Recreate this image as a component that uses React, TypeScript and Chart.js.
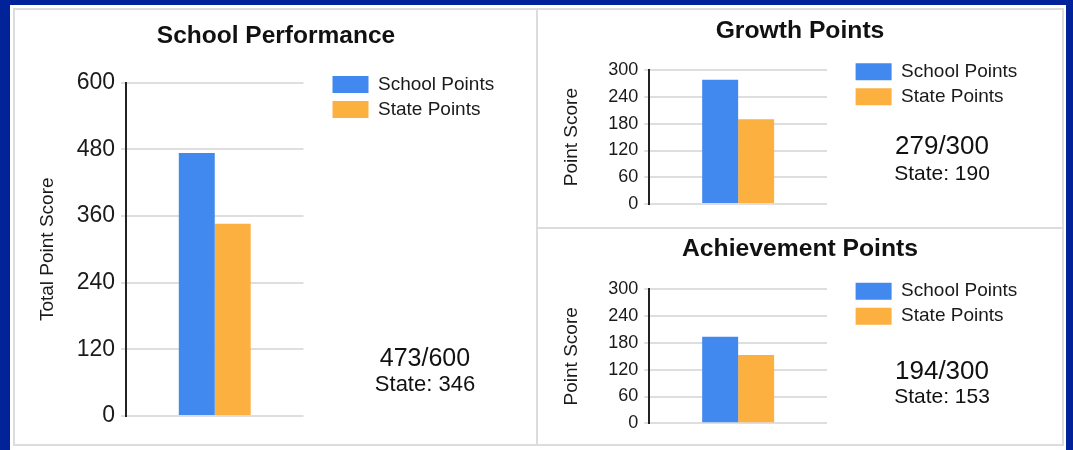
import React, { useEffect, useRef } from 'react';
import { Chart, registerables } from 'chart.js';

Chart.register(...registerables);
Chart.defaults.font.family = '"Liberation Sans", Arial, sans-serif';

// ---------- data ----------
const seriesNames = ['School Points', 'State Points'];
const categories = [''];

const perfSchool = [473];
const perfState = [346];
const perfTicks = [0, 120, 240, 360, 480, 600];

const growthSchool = [279];
const growthState = [190];
const growthTicks = [0, 60, 120, 180, 240, 300];

const achSchool = [194];
const achState = [153];
const achTicks = [0, 60, 120, 180, 240, 300];

const panelTitles = ['School Performance', 'Growth Points', 'Achievement Points'];
const axisTitles = ['Total Point Score', 'Point Score', 'Point Score'];
const statePrefix = 'State: ';

// ---------- styles ----------
const seriesColors = ['#4289ef', '#fbb040'];
const BLUE = '#02229a';
const PANEL_BORDER = '#dcdcdc';
const GRID = '#dedede';
const TEXT = '#1a1a1a';

type Geo = {
  cx: number; cy: number; cw: number; ch: number;
  aL: number; aR: number; aT: number; aB: number;
  titleY: number; yTitleX: number; legX: number; legY: number;
  titleSize: number; tickSize: number;
  textX: number; fracY: number; fracSize: number; stateY: number; stateSize: number;
};

type Spec = { title: string; axisTitle: string; school: number[]; state: number[]; ticks: number[]; geo: Geo };

const specs: Spec[] = [
  {
    title: panelTitles[0], axisTitle: axisTitles[0], school: perfSchool, state: perfState, ticks: perfTicks,
    geo: { cx: 15, cy: 10, cw: 522, ch: 434, aL: 126, aR: 303.5, aT: 82.5, aB: 416, titleY: 36.5, yTitleX: 48,
      legX: 332.5, legY: 75, titleSize: 24.5, tickSize: 23, textX: 425, fracY: 357.5, fracSize: 25, stateY: 384, stateSize: 22 },
  },
  {
    title: panelTitles[1], axisTitle: axisTitles[1], school: growthSchool, state: growthState, ticks: growthTicks,
    geo: { cx: 538, cy: 10, cw: 524, ch: 217, aL: 649.3, aR: 827, aT: 70.3, aB: 204, titleY: 31, yTitleX: 572,
      legX: 855.6, legY: 62.2, titleSize: 24.7, tickSize: 18, textX: 942, fracY: 145, fracSize: 26, stateY: 172.5, stateSize: 21 },
  },
  {
    title: panelTitles[2], axisTitle: axisTitles[2], school: achSchool, state: achState, ticks: achTicks,
    geo: { cx: 538, cy: 229, cw: 524, ch: 216, aL: 649.3, aR: 827, aT: 289.3, aB: 423.3, titleY: 249.5, yTitleX: 572,
      legX: 855.6, legY: 281.7, titleSize: 24.7, tickSize: 18, textX: 942, fracY: 370, fracSize: 26, stateY: 395.5, stateSize: 21 },
  },
];

function BarPanel({ s }: { s: Spec }) {
  const ref = useRef<HTMLCanvasElement>(null);
  const g = s.geo;
  useEffect(() => {
    const padSide = 8, padTop = 2;
    const titleLh = g.titleSize * 1.2;
    const axisSize = 19;
    const axisLh = axisSize * 1.2;
    const legTitleLh = 12;
    const titlePadTop = g.titleY - g.cy - padTop - titleLh / 2;
    const titlePadBottom = g.aT - g.cy - padTop - titlePadTop - titleLh;
    const padBottom = g.cy + g.ch - g.aB;
    const yLeft = g.cx + padSide;
    const yWidth = g.aL - yLeft;
    const yTitlePad = g.yTitleX - yLeft - axisLh / 2;
    const legLeft = g.legX - 6;
    const gapW = legLeft - g.aR;
    const legTitlePad = g.legY - g.cy - padTop - 6 - legTitleLh;
    const rightEdge = g.cx + g.cw - padSide;
    const ticks = s.ticks;

    const chart = new Chart(ref.current as HTMLCanvasElement, {
      type: 'bar',
      data: {
        labels: categories,
        datasets: [
          { label: seriesNames[0], data: s.school, backgroundColor: seriesColors[0], borderWidth: 0 },
          { label: seriesNames[1], data: s.state, backgroundColor: seriesColors[1], borderWidth: 0 },
        ],
      },
      options: {
        responsive: false,
        animation: false,
        events: [],
        layout: { padding: { left: padSide, right: padSide, top: padTop, bottom: padBottom } },
        datasets: { bar: { categoryPercentage: 0.405, barPercentage: 1 } },
        scales: {
          x: { type: 'category', display: false },
          y: {
            type: 'linear',
            position: 'left',
            min: ticks[0],
            max: ticks[ticks.length - 1],
            afterBuildTicks: (sc: any) => { sc.ticks = ticks.map((v) => ({ value: v })); },
            afterFit: (sc: any) => { sc.width = yWidth; },
            grid: { color: GRID, lineWidth: 2, tickLength: 5, drawTicks: true },
            border: { display: true, color: '#222', width: 2 },
            ticks: { font: { size: g.tickSize }, color: TEXT, padding: 6 },
            title: { display: true, text: s.axisTitle, font: { size: axisSize }, color: TEXT, padding: { top: yTitlePad, bottom: 0 } },
          },
          gap: {
            type: 'linear', axis: 'y', position: 'right', display: true, weight: 0,
            grid: { display: false, drawTicks: false }, border: { display: false }, ticks: { display: false },
            afterFit: (sc: any) => { sc.width = gapW; },
          },
          outer: {
            type: 'linear', axis: 'y', position: 'right', display: true, weight: 5000,
            grid: { display: false, drawTicks: false }, border: { display: false }, ticks: { display: false },
            afterFit: (sc: any) => {
              const lw = sc.chart.legend ? sc.chart.legend.width : 174;
              sc.width = Math.max(0, rightEdge - legLeft - lw);
            },
          },
        } as any,
        plugins: {
          title: {
            display: true, text: s.title, color: '#111',
            font: { size: g.titleSize, weight: 'bold' },
            padding: { top: titlePadTop, bottom: titlePadBottom },
          },
          legend: {
            display: true, position: 'right', align: 'start', fullSize: true, maxWidth: 400,
            title: { display: true, text: '', padding: { top: legTitlePad, bottom: 0 }, font: { size: 10 } },
            labels: { boxWidth: 36, boxHeight: 17, padding: 6, font: { size: 19 }, color: TEXT },
          },
          tooltip: { enabled: false },
        },
      } as any,
    });
    return () => chart.destroy();
  }, []);

  const top = (c: number, size: number) => c - 0.49 * size;
  return (
    <>
      <canvas
        ref={ref}
        width={g.cw}
        height={g.ch}
        style={{ position: 'absolute', left: g.cx, top: g.cy, width: g.cw, height: g.ch }}
      />
      <div style={{ position: 'absolute', left: g.textX - 100, width: 200, top: top(g.fracY, g.fracSize), textAlign: 'center',
        fontSize: g.fracSize, lineHeight: `${g.fracSize}px`, color: '#111', whiteSpace: 'nowrap' }}>
        {`${s.school[0]}/${s.ticks[s.ticks.length - 1]}`}
      </div>
      <div style={{ position: 'absolute', left: g.textX - 100, width: 200, top: top(g.stateY, g.stateSize), textAlign: 'center',
        fontSize: g.stateSize, lineHeight: `${g.stateSize}px`, color: '#111', whiteSpace: 'nowrap' }}>
        {`${statePrefix}${s.state[0]}`}
      </div>
    </>
  );
}

export default function App() {
  const panelBox = (left: number, top: number, width: number, height: number) => ({
    position: 'absolute' as const, left, top, width, height, border: `2px solid ${PANEL_BORDER}`, boxSizing: 'border-box' as const,
  });
  return (
    <div style={{ position: 'absolute', left: 0, top: 0, width: 1073, height: 450, background: BLUE, overflow: 'hidden',
      fontFamily: '"Liberation Sans", Arial, sans-serif' }}>
      <div style={{ position: 'absolute', left: 10, top: 5, width: 1056, height: 460, background: '#ffffff' }} />
      <div style={panelBox(13, 8, 525, 438)} />
      <div style={panelBox(536, 8, 528, 221)} />
      <div style={panelBox(536, 227, 528, 219)} />
      {specs.map((s, i) => <BarPanel key={i} s={s} />)}
    </div>
  );
}
